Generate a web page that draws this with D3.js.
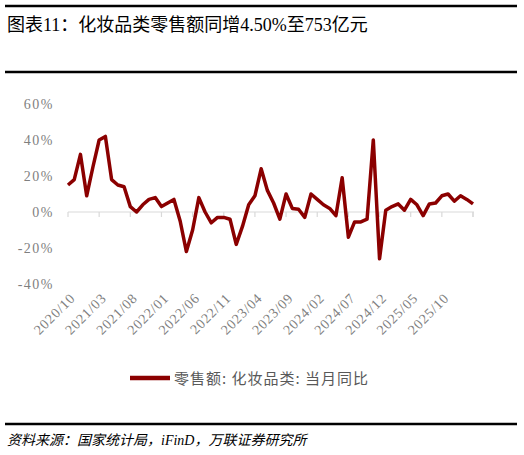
<!DOCTYPE html>
<html><head><meta charset="utf-8">
<script src="https://cdn.jsdelivr.net/npm/d3@7"></script>
<style>body{margin:0;background:#fff}svg{display:block}</style>
</head><body>
<script>
const values=[15,18,32,9,25,40,42,18,15,14,3,0,4,7,8,3,5,7,-5,-22,-10,8,0,-6,-3,-3,-4,-18,-8,4,9,24,12,5,-4,10,2,1.5,-3,10,7,4,2,-2,19,-14,-5.5,-5.5,-4,40,-26,1,3,4.5,1,7,4,-2,4.5,5,9,10,6,9,7,4.5];
const tickLabels=["2020/10","2021/03","2021/08","2022/01","2022/06","2022/11","2023/04","2023/09","2024/02","2024/07","2024/12","2025/05","2025/10"];
const yTicks=[-40,-20,0,20,40,60];
const seriesName="零售额:化妆品类:当月同比";
const title="图表11：化妆品类零售额同增4.50%至753亿元";
const source="资料来源：国家统计局，iFinD，万联证券研究所";

const W=524,H=455,red="#8B0000",gray="#7f7f7f";
const svg=d3.select("body").append("svg").attr("width",W).attr("height",H);
const serif="'Liberation Serif','Noto Sans CJK SC',serif";
svg.append("line").attr("x1",5).attr("x2",517).attr("y1",6).attr("y2",6).attr("stroke","#000").attr("stroke-width",2.5);
svg.append("text").attr("x",7).attr("y",31).attr("font-family",serif).attr("font-size",18).text(title);
svg.append("line").attr("x1",5).attr("x2",517).attr("y1",72).attr("y2",72).attr("stroke","#000").attr("stroke-width",2.5);
svg.append("line").attr("x1",5).attr("x2",517).attr("y1",424).attr("y2",424).attr("stroke","#000").attr("stroke-width",2.5);
svg.append("text").attr("x",7).attr("y",445).attr("font-family",serif).attr("font-style","italic").attr("font-size",14).text(source);

const x=d3.scaleLinear().domain([0,values.length-1]).range([68,473]);
const y=d3.scaleLinear().domain([-40,60]).range([284,104]);
svg.append("g").selectAll("text").data(yTicks).join("text")
 .attr("x",54).attr("y",d=>y(d)+5).attr("text-anchor","end").attr("font-family",serif)
 .attr("font-size",14).attr("fill",gray).attr("letter-spacing",1.5).text(d=>d+"%");
const tickIdx=d3.range(0,values.length,5);
svg.append("line").attr("x1",x(0)).attr("x2",x(values.length-1)+1).attr("y1",y(0)).attr("y2",y(0)).attr("stroke","#d9d9d9").attr("stroke-width",1.2);
svg.append("g").selectAll("line").data(tickIdx.concat([values.length-1])).join("line")
 .attr("x1",d=>x(d)).attr("x2",d=>x(d)).attr("y1",y(0)).attr("y2",y(0)+5).attr("stroke","#d9d9d9").attr("stroke-width",1.2);
svg.append("g").selectAll("text").data(tickLabels).join("text")
 .attr("transform",(d,i)=>`translate(${x(i*5)+8},299) rotate(-45)`)
 .attr("text-anchor","end").attr("font-family",serif).attr("font-size",14).attr("fill",gray).attr("letter-spacing",0.8).text(d=>d);
svg.append("path").datum(values).attr("fill","none").attr("stroke",red).attr("stroke-width",3.5).attr("stroke-linejoin","round")
 .attr("d",d3.line().x((d,i)=>x(i)).y(d=>y(d)));
svg.append("line").attr("x1",130).attr("x2",170).attr("y1",378).attr("y2",378).attr("stroke",red).attr("stroke-width",4.5);
svg.append("text").attr("x",174).attr("y",384).attr("font-family","'Noto Sans CJK SC',sans-serif").attr("font-size",15).attr("fill","#595959").attr("letter-spacing",1).text(seriesName.replace(/:/g,": "));
</script>
</body></html>
